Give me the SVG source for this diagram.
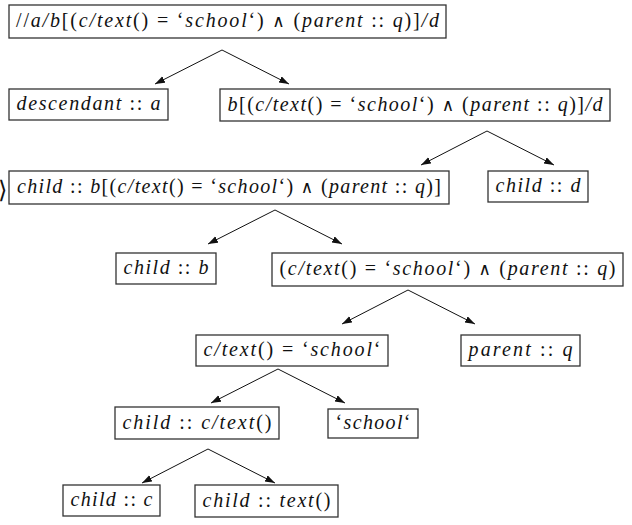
<svg xmlns="http://www.w3.org/2000/svg" width="632" height="525" viewBox="0 0 632 525">
  <style>
    .box { fill: #fff; stroke: #333; stroke-width: 1.3; }
    .lbl { font-family: "Liberation Serif", "DejaVu Serif", serif; font-size: 20px; font-style: italic; fill: #111; text-anchor: middle; }
    .u { font-style: normal; }
    .op { font-style: normal; font-family: "DejaVu Serif", serif; font-size: 17px; }
    .edge { stroke: #111; stroke-width: 1; fill: none; marker-end: url(#ah); }
  </style>
  <defs>
    <marker id="ah" markerUnits="userSpaceOnUse" markerWidth="11" markerHeight="8" refX="10" refY="3.5" orient="auto">
      <path d="M0,0 L10,3.5 L0,7 Z" fill="#111"/>
    </marker>
  </defs>

  <!-- closing angle bracket at the left margin -->
  <text x="-2" y="198" font-family="DejaVu Serif, serif" font-size="24" fill="#111">⟩</text>

  <g id="edges">
    <path class="edge" d="M222,50 L155,84"/>
    <path class="edge" d="M222,50 L289,84"/>
    <path class="edge" d="M487,131 L421,165"/>
    <path class="edge" d="M487,131 L554,165"/>
    <path class="edge" d="M275,210 L208,244"/>
    <path class="edge" d="M275,210 L342,244"/>
    <path class="edge" d="M408,290 L342,324"/>
    <path class="edge" d="M408,290 L475,324"/>
    <path class="edge" d="M278,369 L211,403"/>
    <path class="edge" d="M278,369 L345,403"/>
    <path class="edge" d="M208,449 L142,483"/>
    <path class="edge" d="M208,449 L275,483"/>
  </g>

  <g id="n-root">
    <rect class="box" x="9" y="5" width="437" height="33"/>
    <text class="lbl" x="227.5" y="27" textLength="423" lengthAdjust="spacing"><tspan class="u">//</tspan>a/b<tspan class="u">[(</tspan>c/text<tspan class="u">() = ‘</tspan>school<tspan class="u">‘) </tspan><tspan class="op">∧</tspan><tspan class="u"> (</tspan>parent<tspan class="u"> :: </tspan>q<tspan class="u">)]</tspan>/d</text>
  </g>

  <g id="n-desc-a">
    <rect class="box" x="9" y="89" width="159" height="31"/>
    <text class="lbl" x="88.5" y="110" textLength="144" lengthAdjust="spacing">descendant<tspan class="u"> :: </tspan>a</text>
  </g>

  <g id="n-b-pred-d">
    <rect class="box" x="220" y="89" width="390" height="32"/>
    <text class="lbl" x="415" y="111" textLength="375" lengthAdjust="spacing">b<tspan class="u">[(</tspan>c/text<tspan class="u">() = ‘</tspan>school<tspan class="u">‘) </tspan><tspan class="op">∧</tspan><tspan class="u"> (</tspan>parent<tspan class="u"> :: </tspan>q<tspan class="u">)]</tspan>/d</text>
  </g>

  <g id="n-child-b-pred">
    <rect class="box" x="9" y="171" width="440" height="33"/>
    <text class="lbl" x="229" y="193" textLength="424" lengthAdjust="spacing">child<tspan class="u"> :: </tspan>b<tspan class="u">[(</tspan>c/text<tspan class="u">() = ‘</tspan>school<tspan class="u">‘) </tspan><tspan class="op">∧</tspan><tspan class="u"> (</tspan>parent<tspan class="u"> :: </tspan>q<tspan class="u">)]</tspan></text>
  </g>

  <g id="n-child-d">
    <rect class="box" x="488" y="171" width="100" height="31"/>
    <text class="lbl" x="538" y="192" textLength="85" lengthAdjust="spacing">child<tspan class="u"> :: </tspan>d</text>
  </g>

  <g id="n-child-b">
    <rect class="box" x="116" y="253" width="100" height="31"/>
    <text class="lbl" x="166" y="274" textLength="85" lengthAdjust="spacing">child<tspan class="u"> :: </tspan>b</text>
  </g>

  <g id="n-and">
    <rect class="box" x="272" y="253" width="351" height="33"/>
    <text class="lbl" x="447.5" y="275" textLength="336" lengthAdjust="spacing"><tspan class="u">(</tspan>c/text<tspan class="u">() = ‘</tspan>school<tspan class="u">‘) </tspan><tspan class="op">∧</tspan><tspan class="u"> (</tspan>parent<tspan class="u"> :: </tspan>q<tspan class="u">)</tspan></text>
  </g>

  <g id="n-eq">
    <rect class="box" x="196" y="335" width="192" height="31"/>
    <text class="lbl" x="292" y="356" textLength="177" lengthAdjust="spacing">c/text<tspan class="u">() = ‘</tspan>school<tspan class="u">‘</tspan></text>
  </g>

  <g id="n-parent-q">
    <rect class="box" x="461" y="335" width="119" height="31"/>
    <text class="lbl" x="520.5" y="356" textLength="104" lengthAdjust="spacing">parent<tspan class="u"> :: </tspan>q</text>
  </g>

  <g id="n-child-c-text">
    <rect class="box" x="115" y="407" width="164" height="32"/>
    <text class="lbl" x="197" y="429" textLength="149" lengthAdjust="spacing">child<tspan class="u"> :: </tspan>c/text<tspan class="u">()</tspan></text>
  </g>

  <g id="n-school">
    <rect class="box" x="328" y="409" width="90" height="29"/>
    <text class="lbl" x="373" y="429" textLength="75" lengthAdjust="spacing"><tspan class="u">‘</tspan>school<tspan class="u">‘</tspan></text>
  </g>

  <g id="n-child-c">
    <rect class="box" x="63" y="485" width="97" height="31"/>
    <text class="lbl" x="111.5" y="506" textLength="82" lengthAdjust="spacing">child<tspan class="u"> :: </tspan>c</text>
  </g>

  <g id="n-child-text">
    <rect class="box" x="195" y="485" width="143" height="32"/>
    <text class="lbl" x="266.5" y="507" textLength="128" lengthAdjust="spacing">child<tspan class="u"> :: </tspan>text<tspan class="u">()</tspan></text>
  </g>
</svg>
